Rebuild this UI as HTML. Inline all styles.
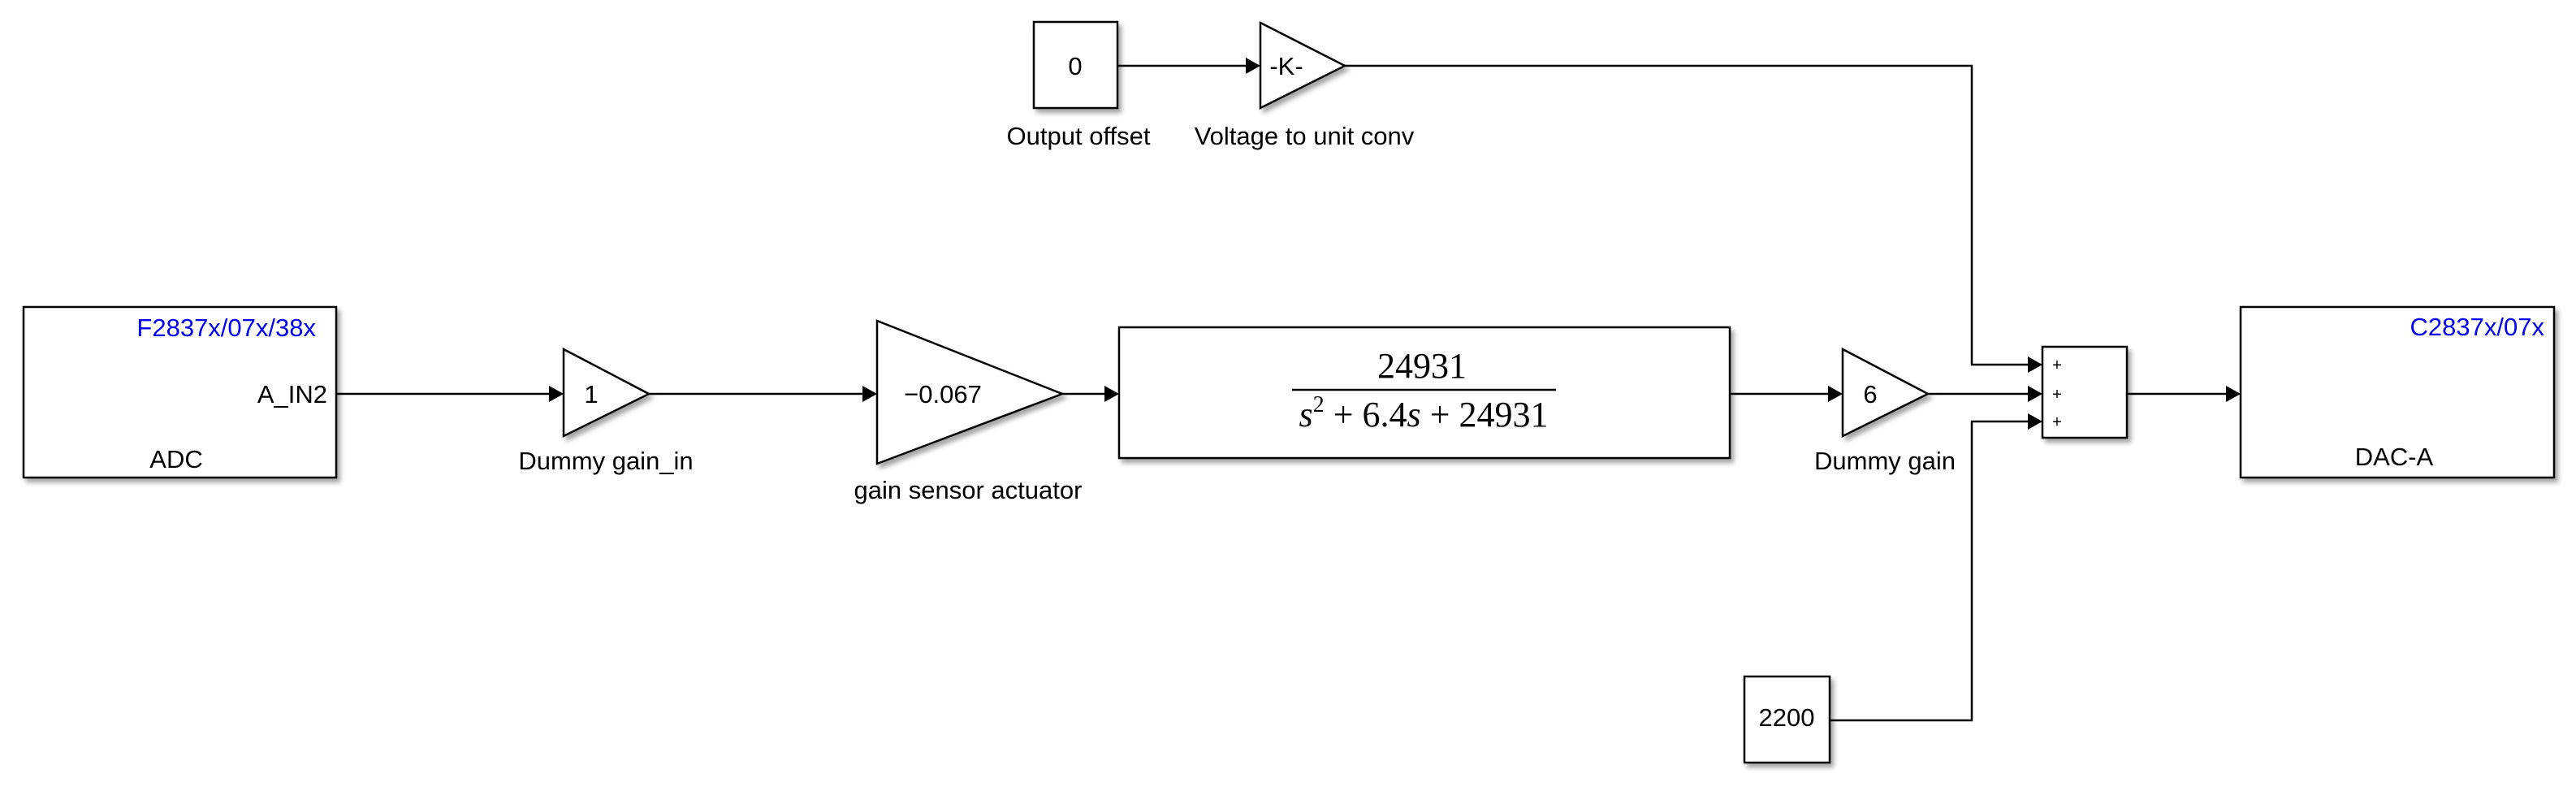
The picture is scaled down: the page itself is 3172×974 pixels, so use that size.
<!DOCTYPE html>
<html><head><meta charset="utf-8"><style>
html,body{margin:0;padding:0;background:#fff;}
svg{display:block;}
text{font-family:"Liberation Sans",sans-serif;fill:#000;}
.s{font-family:"Liberation Serif",serif;}
</style></head><body>
<svg width="3172" height="974" viewBox="0 0 3172 974" xmlns="http://www.w3.org/2000/svg">
<defs>
<filter id="sh" x="-10%" y="-10%" width="130%" height="130%">
<feDropShadow dx="4" dy="5" stdDeviation="3" flood-color="#000" flood-opacity="0.35"/>
</filter>
</defs>
<g fill="#fff" stroke="#000" stroke-width="2.5" filter="url(#sh)">
<rect x="29" y="378" width="385" height="210"/>
<polygon points="694,430 799,485 694,537"/>
<polygon points="1080,395 1308,485 1080,571"/>
<rect x="1378" y="403" width="752" height="161"/>
<polygon points="2269,430 2374,485 2269,537"/>
<rect x="2515" y="427" width="104" height="112"/>
<rect x="2759" y="378" width="386" height="210"/>
<rect x="1273" y="27" width="103" height="106"/>
<polygon points="1552,28 1656,81 1552,133"/>
<rect x="2148" y="833" width="105" height="106"/>
</g>
<g stroke="#000" stroke-width="2.5" fill="none">
<line x1="414" y1="485" x2="676" y2="485"/>
<line x1="799" y1="485" x2="1062" y2="485"/>
<line x1="1308" y1="485" x2="1360" y2="485"/>
<line x1="2130" y1="485" x2="2251" y2="485"/>
<line x1="2374" y1="485" x2="2497" y2="485"/>
<line x1="2619" y1="485" x2="2741" y2="485"/>
<line x1="1376" y1="81" x2="1534" y2="81"/>
<polyline points="1656,81 2428,81 2428,449 2497,449"/>
<polyline points="2253,887 2428,887 2428,519 2497,519"/>
</g>
<g fill="#000">
<polygon points="676,475 694,485 676,495"/>
<polygon points="1062,475 1080,485 1062,495"/>
<polygon points="1360,475 1378,485 1360,495"/>
<polygon points="2251,475 2269,485 2251,495"/>
<polygon points="2497,439 2515,449 2497,459"/>
<polygon points="2497,475 2515,485 2497,495"/>
<polygon points="2497,509 2515,519 2497,529"/>
<polygon points="2741,475 2759,485 2741,495"/>
<polygon points="1534,71 1552,81 1534,91"/>
</g>
<line x1="1591" y1="480" x2="1916" y2="480" stroke="#000" stroke-width="2.5"/>
<g font-size="31">
<text x="389" y="414" text-anchor="end" style="fill:#0000ee">F2837x/07x/38x</text>
<text x="403" y="496" text-anchor="end">A_IN2</text>
<text x="217" y="576" text-anchor="middle">ADC</text>
<text x="728" y="496" text-anchor="middle">1</text>
<text x="746" y="578" text-anchor="middle">Dummy gain_in</text>
<text x="1161" y="496" text-anchor="middle">−0.067</text>
<text x="1192" y="614" text-anchor="middle">gain sensor actuator</text>
<text x="2303" y="496" text-anchor="middle">6</text>
<text x="2321" y="578" text-anchor="middle">Dummy gain</text>
<text x="3133" y="413" text-anchor="end" style="fill:#0000ee">C2837x/07x</text>
<text x="2948" y="573" text-anchor="middle">DAC-A</text>
<text x="1324" y="92" text-anchor="middle">0</text>
<text x="1328" y="178" text-anchor="middle">Output offset</text>
<text x="1584" y="92" text-anchor="middle">-K-</text>
<text x="1606" y="178" text-anchor="middle">Voltage to unit conv</text>
<text x="2200" y="894" text-anchor="middle">2200</text>
</g>
<g font-size="20">
<text x="2533" y="456" text-anchor="middle">+</text>
<text x="2533" y="492" text-anchor="middle">+</text>
<text x="2533" y="526" text-anchor="middle">+</text>
</g>
<text class="s" x="1751" y="465" font-size="44" text-anchor="middle">24931</text>
<text class="s" x="1753" y="525" font-size="44" text-anchor="middle"><tspan font-style="italic">s</tspan><tspan font-size="28" dy="-18">2</tspan><tspan dy="18"> + 6.4</tspan><tspan font-style="italic">s</tspan> + 24931</text>
</svg>
</body></html>
